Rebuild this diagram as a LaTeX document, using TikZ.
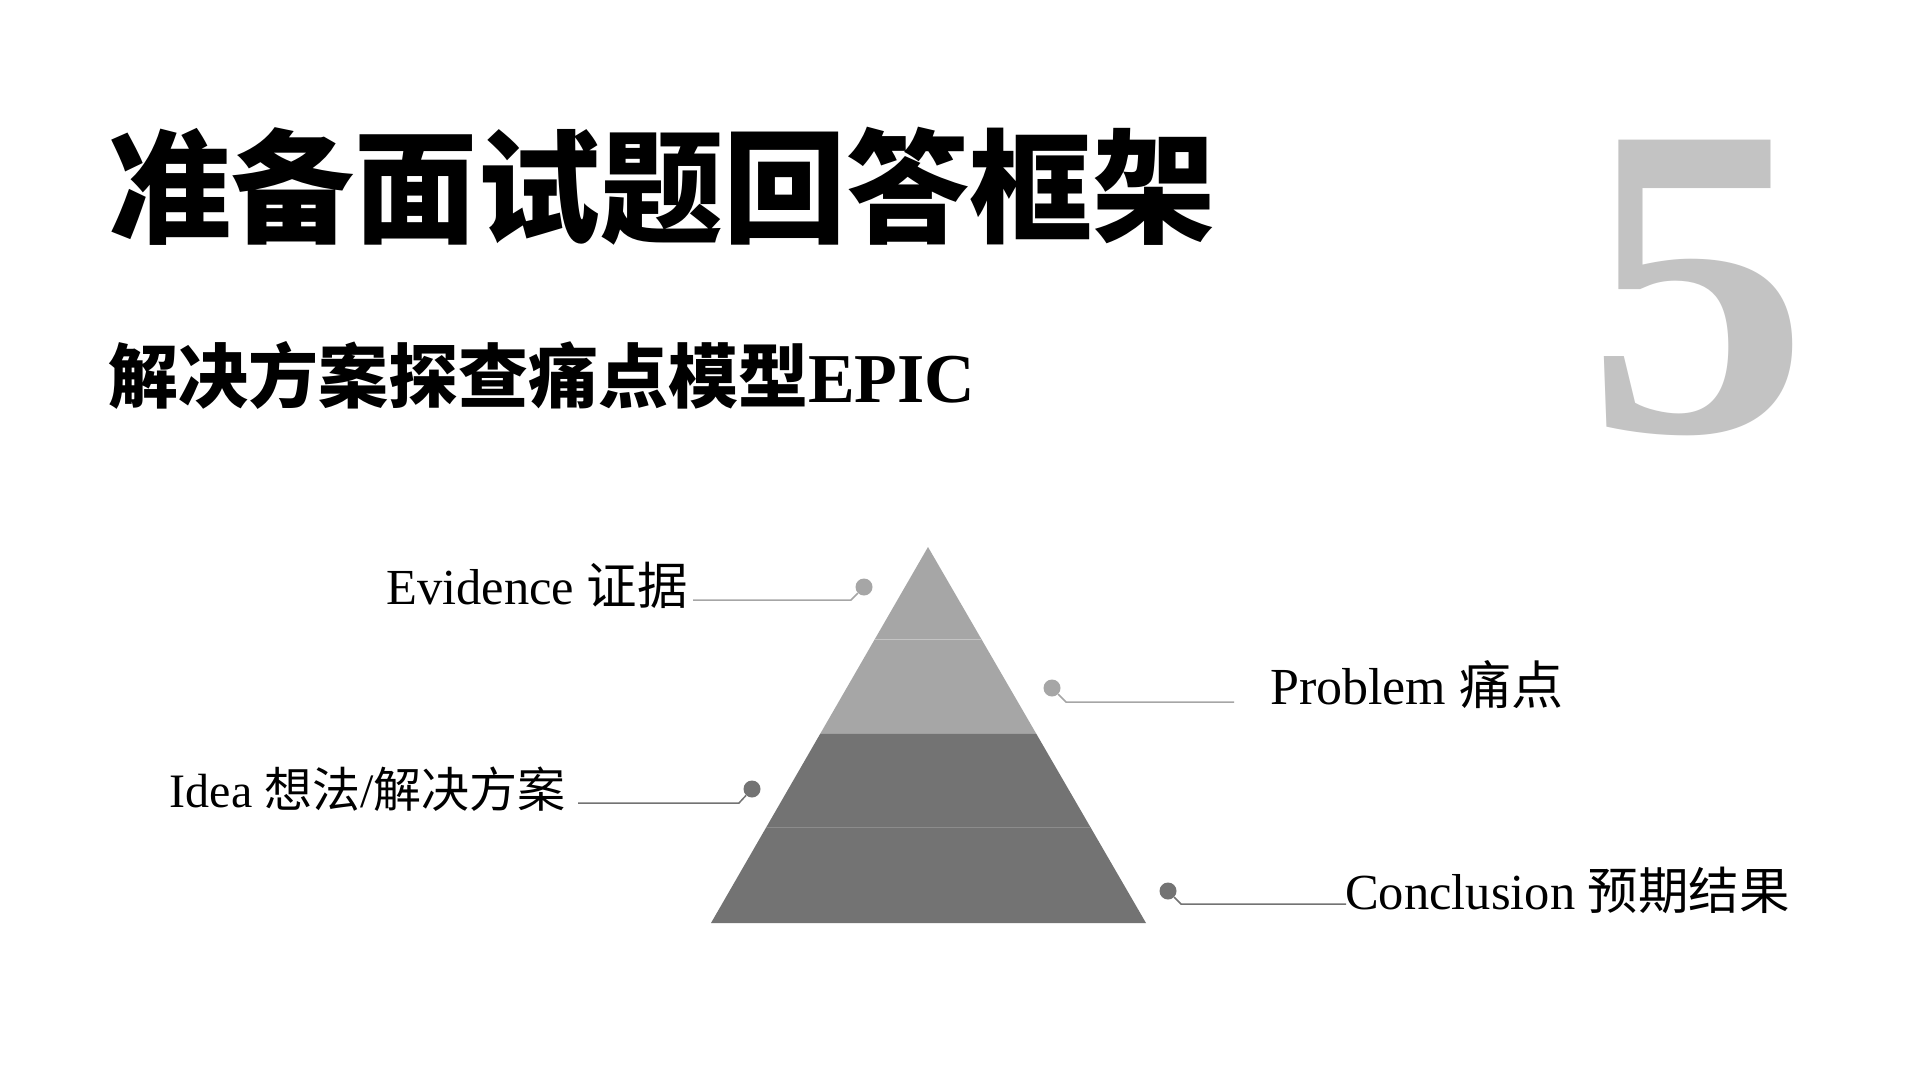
\documentclass[tikz,border=0pt]{standalone}
\usepackage{fontspec}
\setmainfont{Liberation Serif}
\newfontfamily\cjk{Noto Sans CJK SC}
\usetikzlibrary{calc}
\definecolor{lightg}{HTML}{A6A6A6}
\definecolor{darkg}{HTML}{737373}
\definecolor{numg}{HTML}{C3C3C3}
\definecolor{sepA}{HTML}{C4C4C4}
\definecolor{sepB}{HTML}{8C8C8C}
\tikzset{
  label/.style={inner sep=0pt, font=\fontsize{50.5}{50.5}\selectfont, text=black},
  dotL/.style={circle, fill=lightg, minimum size=17pt, inner sep=0pt},
  dotD/.style={circle, fill=darkg, minimum size=17pt, inner sep=0pt},
  lineL/.style={draw=lightg, line width=1.5pt},
  lineD/.style={draw=darkg, line width=1.5pt},
}
\begin{document}
\begin{tikzpicture}[x=1pt,y=-1pt]
\useasboundingbox[fill=white] (0,0) rectangle (1920,1080);
% titles
\node[anchor=base west, inner sep=0pt, font=\fontsize{123}{123}\selectfont\cjk\bfseries] (title) at (108,233) {准备面试题回答框架};
\node[anchor=base west, inner sep=0pt, font=\fontsize{70}{70}\selectfont\bfseries] (sub) at (108,402) {{\cjk 解决方案探查痛点模型}EPIC};
\node[anchor=base, inner sep=0pt, text=numg, font=\fontsize{445}{445}\selectfont\bfseries] (num) at (1698,431) {5};
% pyramid
\coordinate (A) at (928,547);
\coordinate (BL) at (711,923);
\coordinate (BR) at (1146,923);
\coordinate (L1) at ($(A)!0.2447!(BL)$);
\coordinate (R1) at ($(A)!0.2447!(BR)$);
\coordinate (L2) at ($(A)!0.4973!(BL)$);
\coordinate (R2) at ($(A)!0.4973!(BR)$);
\coordinate (L3) at ($(A)!0.7473!(BL)$);
\coordinate (R3) at ($(A)!0.7473!(BR)$);
\fill[lightg] (A) -- (L2) -- (R2) -- cycle;
\fill[darkg] (L2) -- (BL) -- (BR) -- (R2) -- cycle;
\draw[sepA, line width=1pt] (L1) -- (R1);
\draw[sepB, line width=1pt] (L3) -- (R3);
% dots
\node[dotL] (dE) at (864,587) {};
\node[dotL] (dP) at (1052,688) {};
\node[dotD] (dI) at (752,789) {};
\node[dotD] (dC) at (1168,891) {};
\coordinate (kE) at (851,600); \coordinate (eE) at (693,600);
\coordinate (kP) at (1066,702); \coordinate (eP) at (1234,702);
\coordinate (kI) at (739,803); \coordinate (eI) at (578,803);
\coordinate (kC) at (1181,904); \coordinate (eC) at (1346,904);
\draw[lineL] (dE) -- (kE) -- (eE);
\draw[lineL] (dP) -- (kP) -- (eP);
\draw[lineD] (dI) -- (kI) -- (eI);
\draw[lineD] (dC) -- (kC) -- (eC);
% labels
\node[label, anchor=base east] (tE) at (688,604) {Evidence {\cjk 证据}};
\node[label, anchor=base west, font=\fontsize{52}{52}\selectfont] (tP) at (1270,704) {Problem {\cjk 痛点}};
\node[label, anchor=base east, font=\fontsize{48}{48}\selectfont] (tI) at (566,807) {Idea {\cjk 想法}/{\cjk 解决方案}};
\node[label, anchor=base west] (tC) at (1345,909) {Conclusion {\cjk 预期结果}};
\end{tikzpicture}
\end{document}
